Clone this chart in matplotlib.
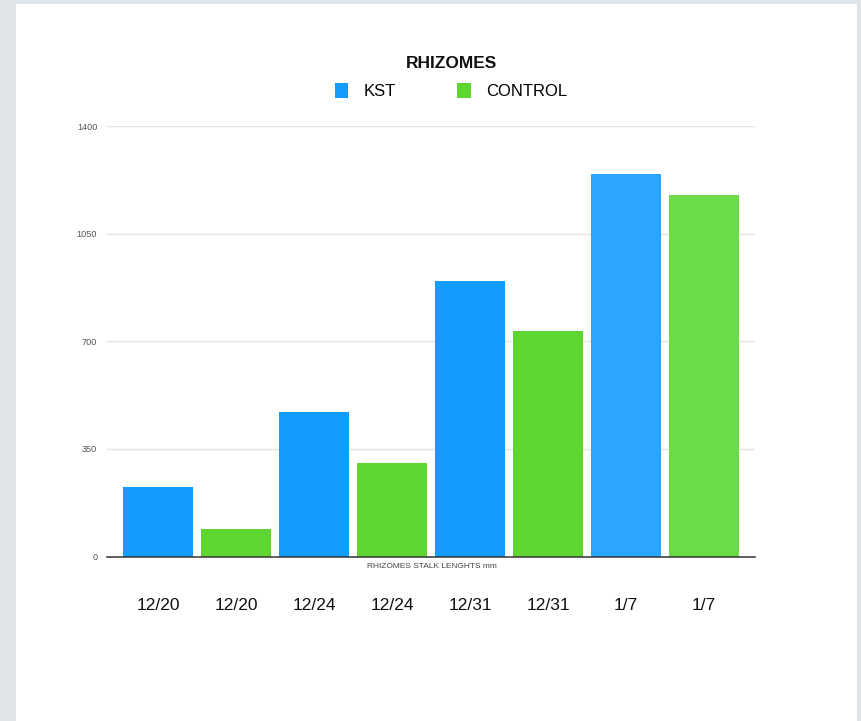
import numpy as np
import matplotlib
matplotlib.use("Agg")
import matplotlib.pyplot as plt
from matplotlib.patches import Rectangle, Patch

plt.rcParams['font.family'] = ['Liberation Sans', 'DejaVu Sans']

dates = ["12/20", "12/24", "12/31", "1/7"]
kst = [225, 470, 897, 1245]
control = [91, 303, 733, 1176]
yticks = [0, 350, 700, 1050, 1400]
title = "RHIZOMES"
xlabel = "RHIZOMES STALK LENGHTS mm"

W, H = 862, 721
fig = plt.figure(figsize=(W / 100, H / 100), dpi=100)
fig.patch.set_facecolor('#dfe4e9')
fig.patches.append(Rectangle((16 / W, 0), (857 - 16) / W, (H - 4) / H,
                             transform=fig.transFigure, facecolor='white',
                             edgecolor='none', zorder=-5))

left, right, top, bottom = 107, 755, 126, 556.5
ax = fig.add_axes([left / W, (H - bottom) / H, (right - left) / W, (bottom - top) / H])
ax.set_zorder(2)
ax.set_facecolor('none')

labels = []
values = []
colors = []
kst_cols = ['#129cff', '#129cff', '#129cff', '#2aa6ff']
ctl_cols = ['#5fd531', '#5fd531', '#5fd531', '#6cdb48']
for i, d in enumerate(dates):
    labels += [d, d]
    values += [kst[i], control[i]]
    colors += [kst_cols[i], ctl_cols[i]]

x = np.arange(len(values))
ax.bar(x, values, width=0.9, color=colors, zorder=2)
ax.set_xlim(-0.654, len(values) - 1 + 0.654)
ax.set_ylim(0, 1400)
ax.set_yticks(yticks)
ax.set_yticklabels([str(v) for v in yticks], fontsize=6.6, color='#555555')
ax.set_xticks(x)
ax.set_xticklabels(labels, fontsize=12.5, color='#111111')
ax.tick_params(axis='x', length=0, pad=30)
ax.tick_params(axis='y', length=0, pad=7)
ax.grid(axis='y', color='#e4e4e4', linewidth=1, zorder=0)
ax.set_axisbelow(True)
for s in ['top', 'right', 'left']:
    ax.spines[s].set_visible(False)
ax.spines['bottom'].set_color('#333333')
ax.spines['bottom'].set_linewidth(1.1)
ax.spines['bottom'].set_zorder(3)

fig.text(432 / W, 1 - 566 / H, xlabel, fontsize=6, color='#444444',
         ha='center', va='center')
fig.text(452 / W, 1 - 63 / H, title, fontsize=12.5, fontweight='bold',
         ha='center', va='center', color='#111111')

handles = [Patch(facecolor='#129cff', edgecolor='none'),
           Patch(facecolor='#5fd531', edgecolor='none')]
fig.legend(handles, ["KST", "CONTROL"], loc='center', ncol=2,
           bbox_to_anchor=(451 / W, 1 - 91 / H), frameon=False, fontsize=12,
           handlelength=0.8, handleheight=1.0, handletextpad=0.9,
           columnspacing=3.7, borderpad=0, borderaxespad=0)

fig.savefig("out.png", dpi=100, facecolor=fig.get_facecolor())
